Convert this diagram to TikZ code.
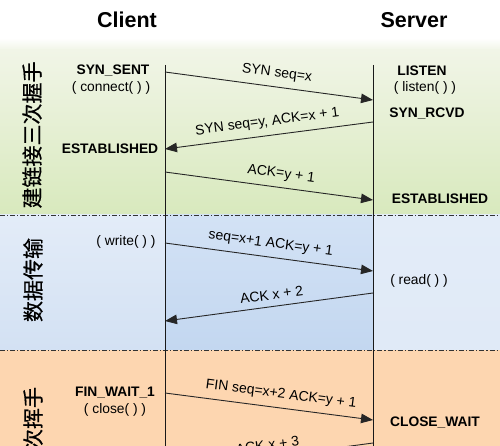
\documentclass[tikz,border=0pt]{standalone}
\usepackage{fontspec}
\setmainfont{Liberation Sans}
\newfontfamily\cjk[FakeBold=0.6]{Noto Sans CJK SC}
\usetikzlibrary{arrows.meta}
\definecolor{gA}{HTML}{F1F5E7}
\definecolor{gB}{HTML}{D8E9BD}
\definecolor{bA}{HTML}{E3ECF8}
\definecolor{bB}{HTML}{D3E1F3}
\definecolor{bM}{HTML}{C3D7F0}
\definecolor{bMt}{HTML}{D3E2F5}
\definecolor{oA}{HTML}{FDD6B0}
\begin{document}
\begin{tikzpicture}[x=1pt,y=-1pt,
  msg/.style={draw=black!85, line width=0.9pt, -{Triangle[length=12pt,width=9.5pt]}},
  lbl/.style={sloped, above, font=\fontsize{14}{16}\selectfont, inner xsep=0pt, inner ysep=6.5pt},
  state/.style={font=\bfseries\fontsize{13.8}{16}\selectfont, inner sep=0pt},
  call/.style={font=\fontsize{13.8}{16}\selectfont, inner sep=0pt},
  title/.style={font=\bfseries\fontsize{21.5}{24}\selectfont, inner sep=0pt},
  phase/.style={font=\cjk\fontsize{21}{21}\selectfont, rotate=90, inner sep=0pt},
  sepline/.style={draw=black!80, line width=0.8pt, dash pattern=on 5pt off 2pt on 1.2pt off 2pt},
  life/.style={draw=black!90, line width=1pt}]
\clip (0,0) rectangle (500,446);
% backgrounds
\fill[white] (0,0) rectangle (500,446);
\shade[top color=white, bottom color=gA] (0,38) rectangle (500,50);
\shade[top color=gA, bottom color=gB] (0,50) rectangle (500,215);
\shade[top color=bA, bottom color=bB] (0,215) rectangle (165,350);
\shade[top color=bMt, bottom color=bM] (165,215) rectangle (373,350);
\shade[top color=bA, bottom color=bA!80!bB] (373,215) rectangle (500,350);
\fill[oA] (0,350) rectangle (500,446);
\draw[sepline] (0,215) -- (500,215);
\draw[sepline] (0,350) -- (500,350);
% titles
\node[title] (client) at (127,20) {Client};
\node[title] (server) at (414,20) {Server};
% phase labels
\node[phase] (p1) at (32,135) {建链接三次握手};
\node[phase] (p2) at (33,280) {数据传输};
\node[phase] (p3) at (33,429) {四次挥手};
% lifelines
\coordinate (ctop) at (165,65);
\coordinate (cbot) at (165,446);
\coordinate (stop) at (373,65);
\coordinate (sbot) at (373,446);
\draw[life] (ctop) -- (cbot);
\draw[life] (stop) -- (sbot);
% client states
\node[state] (synsent) at (113,70.5) {SYN\_SENT};
\node[call] (connect) at (111,88) {( connect( ) )};
\node[state] (cest) at (110,149) {ESTABLISHED};
\node[call] (write) at (126,242) {( write( ) )};
\node[state] (finw) at (115,393) {FIN\_WAIT\_1};
\node[call] (close) at (115,410) {( close( ) )};
% server states
\node[state] (listen) at (422,71) {LISTEN};
\node[call] (listenc) at (425,88) {( listen( ) )};
\node[state] (synrcvd) at (427,114) {SYN\_RCVD};
\node[state] (sest) at (440,199) {ESTABLISHED};
\node[call] (read) at (419,281) {( read( ) )};
\node[state] (closew) at (435,423) {CLOSE\_WAIT};
% message endpoints
\coordinate (c1) at (165,72);   \coordinate (s1) at (373,100);
\coordinate (s2) at (373,122);  \coordinate (c2) at (165,149);
\coordinate (c3) at (165,172);  \coordinate (s3) at (373,200);
\coordinate (c4) at (165,243);  \coordinate (s4) at (373,271);
\coordinate (s5) at (373,293);  \coordinate (c5) at (165,321);
\coordinate (c6) at (165,393);  \coordinate (s6) at (373,420);
\coordinate (s7) at (373,443);  \coordinate (c7) at (165,471);
% messages
\draw[msg] (c1) -- node[lbl, pos=0.53] (m1) {SYN seq=x} (s1);
\draw[msg] (s2) -- node[lbl, pos=0.5] (m2) {SYN seq=y, ACK=x + 1} (c2);
\draw[msg] (c3) -- node[lbl, pos=0.55] (m3) {ACK=y + 1} (s3);
\draw[msg] (c4) -- node[lbl, pos=0.5] (m4) {seq=x+1 ACK=y + 1} (s4);
\draw[msg] (s5) -- node[lbl, pos=0.48] (m5) {ACK x + 2} (c5);
\draw[msg] (c6) -- node[lbl, pos=0.55] (m6) {FIN seq=x+2 ACK=y + 1} (s6);
\draw[msg] (s7) -- node[lbl, pos=0.5] (m7) {ACK x + 3} (c7);
\end{tikzpicture}
\end{document}
